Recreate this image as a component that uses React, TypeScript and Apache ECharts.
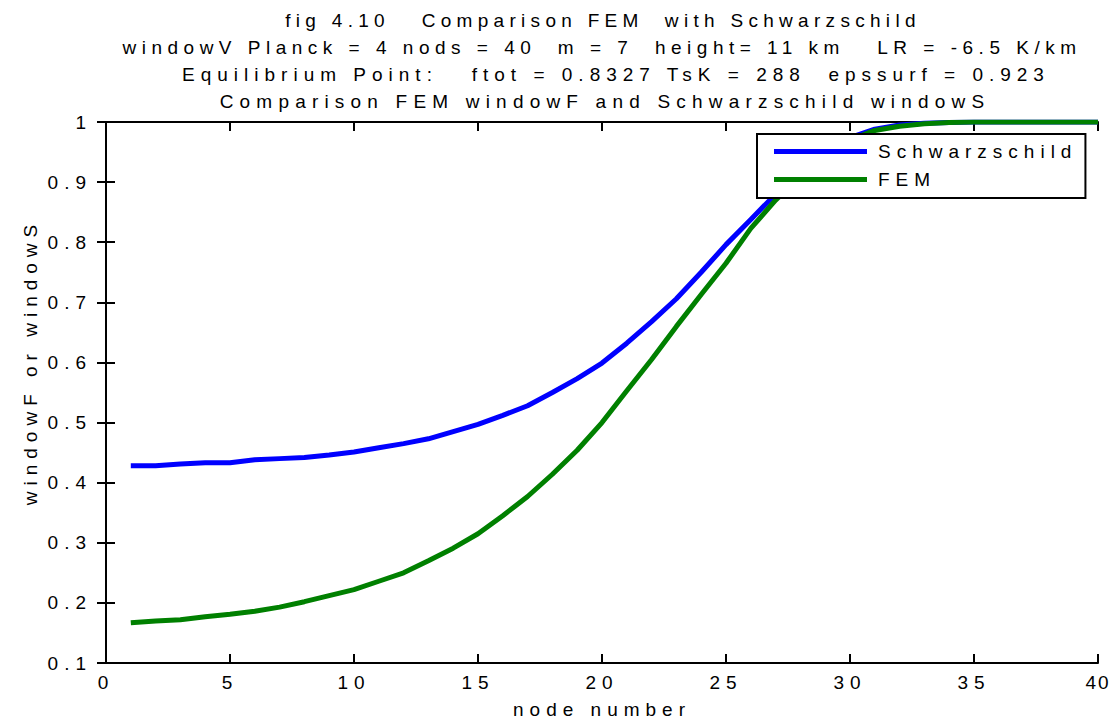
import React, { useEffect, useRef } from "react";
import * as echarts from "echarts";

const nodes: number[] = Array.from({ length: 40 }, (_, i) => i + 1);

const schwarzschild: number[] = [
  0.428, 0.428, 0.431, 0.433, 0.433, 0.438, 0.440, 0.442, 0.446, 0.451,
  0.458, 0.465, 0.473, 0.485, 0.497, 0.512, 0.528, 0.550, 0.573, 0.599,
  0.632, 0.668, 0.706, 0.750, 0.796, 0.838, 0.880, 0.918, 0.952, 0.974,
  0.988, 0.995, 0.998, 0.999, 1.0, 1.0, 1.0, 1.0, 1.0, 1.0,
];

const fem: number[] = [
  0.167, 0.170, 0.172, 0.177, 0.181, 0.186, 0.193, 0.202, 0.212, 0.222,
  0.236, 0.250, 0.270, 0.291, 0.315, 0.345, 0.377, 0.414, 0.454, 0.500,
  0.553, 0.605, 0.660, 0.713, 0.765, 0.823, 0.870, 0.910, 0.945, 0.970,
  0.986, 0.993, 0.997, 0.999, 1.0, 1.0, 1.0, 1.0, 1.0, 1.0,
];

const titleLines: string[] = [
  "fig 4.10   Comparison FEM  with Schwarzschild",
  "windowV Planck = 4 nods = 40  m = 7  height= 11 km   LR = -6.5 K/km",
  "Equilibrium Point:   ftot = 0.8327 TsK = 288  epssurf = 0.923",
  "Comparison FEM windowF and Schwarzschild windowS",
];

const xName = "node number";
const yName = "windowF or windowS";
const seriesNames: string[] = ["Schwarzschild", "FEM"];

const FONT = "'Liberation Sans', Arial, sans-serif";
const FS = 19;
const titleX = [603, 602, 616, 605];
const titleY = [20, 47, 74, 101];
const titleSpacing = [5.3, 5.5, 6.0, 6.2];

export default function App() {
  const ref = useRef<HTMLDivElement>(null);
  useEffect(() => {
    if (!ref.current) return;
    const chart = echarts.init(ref.current, null, { renderer: "svg" });
    const axisLine = { show: true, lineStyle: { color: "#000", width: 2 } };
    const axisTick = { show: true, inside: true, length: 9, lineStyle: { color: "#000", width: 2 } };
    const labelStyle = { color: "#000", fontSize: FS, fontFamily: FONT };
    chart.setOption({
      animation: false,
      backgroundColor: "#fff",
      grid: { left: 106, right: 11, top: 122, bottom: 59, outerBoundsMode: "none", containLabel: false },
      graphic: [
        ...titleLines.map((t, i) => ({
          type: "text",
          x: titleX[i],
          y: titleY[i],
          style: {
            text: t,
            textAlign: "center",
            textVerticalAlign: "middle",
            fontSize: FS,
            fontFamily: FONT,
            fill: "#000",
          },
        })),
        {
          type: "text",
          x: 30,
          y: 362,
          rotation: Math.PI / 2,
          style: {
            text: yName,
            textAlign: "center",
            textVerticalAlign: "middle",
            fontSize: FS,
            fontFamily: FONT,
            fill: "#000",
          },
        },
      ],
      legend: {
        orient: "vertical",
        left: 757,
        top: 134,
        padding: [8, 86, 9, 17],
        itemGap: 9,
        itemWidth: 93,
        itemHeight: 5,
        icon: "rect",
        backgroundColor: "#fff",
        borderColor: "#000",
        borderWidth: 2,
        borderRadius: 0,
        textStyle: { color: "#000", fontSize: FS, fontFamily: FONT, padding: [0, 0, 0, 6] },
        data: seriesNames,
      },
      xAxis: [
        {
          type: "value",
          min: 0,
          max: 40,
          interval: 5,
          name: xName,
          nameLocation: "middle",
          nameGap: 37,
          nameTextStyle: labelStyle,
          axisLine,
          axisTick,
          axisLabel: { ...labelStyle, margin: 10 },
          splitLine: { show: false },
        },
        {
          type: "value",
          position: "top",
          min: 0,
          max: 40,
          interval: 5,
          axisLine,
          axisTick,
          axisLabel: { show: false },
          splitLine: { show: false },
        },
      ],
      yAxis: [
        {
          type: "value",
          min: 0.1,
          max: 1,
          interval: 0.1,
          axisLine,
          axisTick,
          axisLabel: {
            ...labelStyle,
            margin: 14,
            formatter: (v: number) => (Math.abs(v - 1) < 1e-9 ? "1" : v.toFixed(1)),
          },
          splitLine: { show: false },
        },
        {
          type: "value",
          position: "right",
          min: 0.1,
          max: 1,
          interval: 0.1,
          axisLine,
          axisTick,
          axisLabel: { show: false },
          splitLine: { show: false },
        },
      ],
      series: [
        {
          name: seriesNames[0],
          type: "line",
          data: nodes.map((n, i) => [n, schwarzschild[i]]),
          showSymbol: false,
          lineStyle: { color: "#0000ff", width: 5 },
          itemStyle: { color: "#0000ff" },
        },
        {
          name: seriesNames[1],
          type: "line",
          data: nodes.map((n, i) => [n, fem[i]]),
          showSymbol: false,
          lineStyle: { color: "#008000", width: 5 },
          itemStyle: { color: "#008000" },
        },
      ],
    });
    const texts = ref.current.querySelectorAll("text");
    texts.forEach((el) => {
      const content = el.textContent || "";
      const idx = titleLines.indexOf(content);
      if (idx >= 0) (el as SVGTextElement).style.letterSpacing = titleSpacing[idx] + "px";
      if (content === "40") (el as SVGTextElement).style.letterSpacing = "2px";
    });
    return () => chart.dispose();
  }, []);
  return (
    <>
      <style>{`#chart svg text { letter-spacing: 6px; white-space: pre; }`}</style>
      <div
        id="chart"
        ref={ref}
        style={{ position: "absolute", left: 0, top: 0, width: 1109, height: 722 }}
      />
    </>
  );
}
